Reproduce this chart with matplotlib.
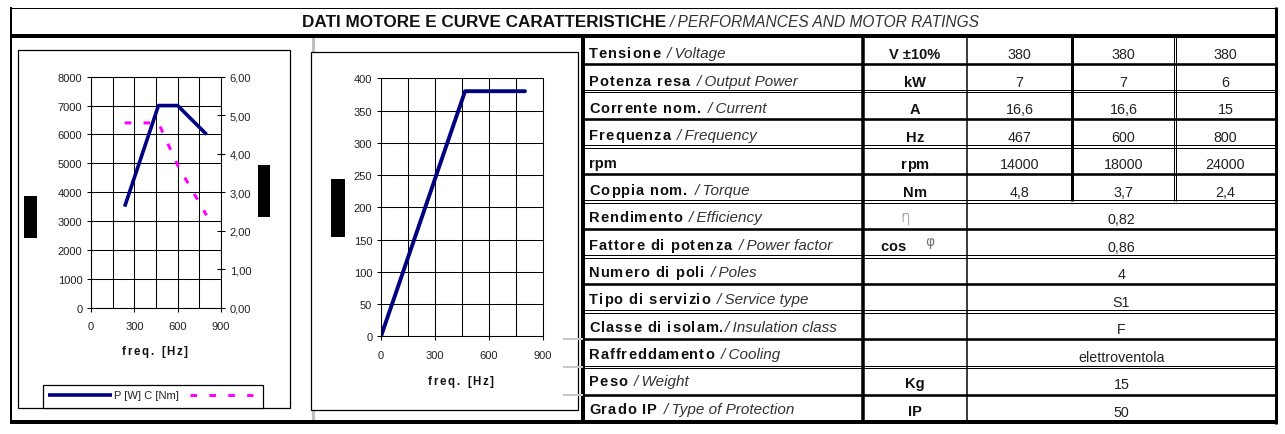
import matplotlib
matplotlib.use("Agg")
import matplotlib.pyplot as plt
from matplotlib.patches import Rectangle
from matplotlib.ticker import FuncFormatter

plt.rcParams["font.family"] = ["Liberation Sans", "DejaVu Sans"]

# characteristic curves
freq_pc = [233, 467, 600, 800]
power_w = [3500, 7000, 7000, 6000]
torque_nm = [4.8, 4.8, 3.7, 2.4]
freq_v = [0, 467, 800]
voltage_v = [0, 380, 380]

# motor ratings table
labels_it = ["Tensione", "Potenza resa", "Corrente nom.", "Frequenza", "rpm",
             "Coppia nom.", "Rendimento", "Fattore di potenza", "Numero di poli",
             "Tipo di servizio", "Classe di isolam.", "Raffreddamento", "Peso",
             "Grado IP"]
labels_en = ["Voltage", "Output Power", "Current", "Frequency", "", "Torque",
             "Efficiency", "Power factor", "Poles", "Service type",
             "Insulation class", "Cooling", "Weight", "Type of Protection"]
units = ["V \u00b110%", "kW", "A", "Hz", "rpm", "Nm", "", "cos", "", "", "",
         "", "Kg", "IP"]
values_a = ["380", "7", "16,6", "467", "14000", "4,8"]
values_b = ["380", "7", "16,6", "600", "18000", "3,7"]
values_c = ["380", "6", "15", "800", "24000", "2,4"]
values_common = ["0,82", "0,86", "4", "S1", "F", "elettroventola", "15", "50"]

W, H = 1285, 435
fig = plt.figure(figsize=(W / 100, H / 100), dpi=100)
cv = fig.add_axes([0, 0, 1, 1])
cv.set_xlim(0, W)
cv.set_ylim(H, 0)
cv.axis("off")


def hline(y, x0, x1, w=1.0, c="black", z=2):
    cv.plot([x0, x1], [y, y], color=c, lw=w * 0.72, solid_capstyle="butt",
            zorder=z)


def vline(x, y0, y1, w=1.0, c="black", z=2):
    cv.plot([x, x], [y0, y1], color=c, lw=w * 0.72, solid_capstyle="butt",
            zorder=z)


def dline(y, x0, x1):
    hline(y - 1.3, x0, x1, 1)
    hline(y + 1.3, x0, x1, 1)


def spaced(x, y, s, spacing, ha="left", space_w=2.9, **kw):
    # letter-spaced text, one glyph after the other
    arts = []
    prev = None
    extra = 0.0
    for ch in s:
        if ch == " ":
            extra += spacing + space_w
            continue
        if prev is None:
            prev = cv.text(x, y, ch, va="baseline", **kw)
        else:
            prev = cv.annotate(ch, xy=(1, y), xycoords=(prev, "data"),
                               xytext=(spacing + extra, 0),
                               textcoords="offset points", va="baseline", **kw)
        extra = 0.0
        arts.append(prev)
    if ha == "center":
        fig.canvas.draw()
        r = fig.canvas.get_renderer()
        x0 = arts[0].get_window_extent(r).x0
        x1 = arts[-1].get_window_extent(r).x1
        arts[0].set_x(x - (x1 - x0) / 2)
    return prev


# outer frame and title
hline(8.5, 10, 1276, 1)
vline(11, 8, 425, 2)
vline(1276, 8, 425, 3)
hline(36.5, 10, 1277.5, 4)
hline(423, 10, 1277.5, 4)

t = cv.text(302, 27, "DATI MOTORE E CURVE CARATTERISTICHE", fontsize=12.3,
            fontweight="bold", va="baseline", color="#111111")
cv.annotate("/ PERFORMANCES AND MOTOR RATINGS", xy=(1, 27), xycoords=(t, "data"),
            xytext=(3, 0), textcoords="offset points", fontsize=11.2,
            fontstyle="italic", va="baseline", color="#333333")

# grey leftovers of the sheet grid
vline(313, 38, 423, 3, "#c0c0c0", z=0.5)

# table grid
row_top = 37.0
row_h = 27.58
edges = [row_top + i * row_h for i in range(15)]
x_lab, x_unit, x_v1, x_v2, x_v3, x_end = 583, 863, 967, 1072, 1175, 1276
for i in range(1, 14):
    if i % 2 == 1:
        hline(edges[i], x_lab, x_end, 2.6)
    else:
        dline(edges[i], x_lab, x_end)
for i in (11, 12, 13):
    hline(edges[i], 563, x_lab, 2, "#c8c8c8", z=3)
vline(x_lab, 37, 424, 4)
vline(x_unit, 37, 424, 3.5)
vline(x_v1, 37, 424, 1.5)
vline(x_v2, 37, edges[6], 3)
vline(x_v3 - 1.3, 37, edges[6], 1)
vline(x_v3 + 1.3, 37, edges[6], 1)

lab_kw = dict(fontsize=10.5, fontweight="bold", color="#111111")
spaced_units = ("Hz", "Nm", "cos", "rpm")
for i, (it, en) in enumerate(zip(labels_it, labels_en)):
    mid = edges[i] + row_h / 2
    yb = mid + 7.5 - 3.3 * i / 13
    if it == "rpm":
        tb = cv.text(589, yb, it, va="baseline", **lab_kw)
    else:
        tb = spaced(589, yb, it, 0.7, **lab_kw)
    if en:
        cv.annotate("/ " + en, xy=(1, yb), xycoords=(tb, "data"),
                    xytext=(1 if i == 10 else 5, 0),
                    textcoords="offset points", fontsize=11,
                    fontstyle="italic", va="baseline", color="#333333")
    yu = mid + 8.7 - 2.2 * i / 13
    if units[i]:
        ux = 893 if units[i] == "cos" else 915
        if units[i] in spaced_units:
            spaced(ux, yu, units[i], 0.1, ha="center", **lab_kw)
        else:
            cv.text(ux, yu, units[i], ha="center", va="baseline", **lab_kw)
    yv = mid + 8.5 - 1.1 * i / 13
    if i < 6:
        for xc, vals in (((x_v1 + x_v2) / 2, values_a),
                         ((x_v2 + x_v3) / 2, values_b),
                         ((x_v3 + x_end) / 2, values_c)):
            cv.text(xc, yv, vals[i], fontsize=10.3, ha="center", va="baseline",
                    color="#222222")
    else:
        cv.text((x_v1 + x_end) / 2, yv, values_common[i - 6], fontsize=10.3,
                ha="center", va="baseline", color="#222222")

# greek symbols of efficiency / power factor
cv.text(905, edges[6] + row_h / 2 + 1, "\u03b7", fontsize=11, ha="center",
        va="center", color="#777777", family="DejaVu Sans",
        fontweight="light")
cv.text(930, edges[7] + row_h / 2 - 2, "\u03c6", fontsize=10, ha="center",
        va="center", color="#777777", family="DejaVu Sans")

# chart boxes
cv.add_patch(Rectangle((18, 51), 272, 358, facecolor="white",
                       edgecolor="black", lw=0.9))
cv.add_patch(Rectangle((311, 53), 267, 358, facecolor="white",
                       edgecolor="black", lw=0.9))
cv.add_patch(Rectangle((43, 386), 220, 23, facecolor="white",
                       edgecolor="black", lw=0.9))
# blacked-out axis titles
for x0, y0, w, h in ((24, 197, 13, 42), (258, 166, 12, 52), (331, 180, 14, 58)):
    cv.add_patch(Rectangle((x0, y0), w, h, facecolor="black", edgecolor="none"))

xl_kw = dict(fontsize=8.3, fontweight="bold", color="#111111")
spaced(155, 355, "freq. [Hz]", 1.2, ha="center", **xl_kw)
spaced(461, 385.5, "freq. [Hz]", 1.2, ha="center", **xl_kw)

# legend of the power / torque chart
magenta_dash = (2.2, 4.1)
hline(396, 48, 112, 3.6, "#000080", z=3)
cv.text(114, 396.5, "P [W] C [Nm]", fontsize=8, va="center", color="#222222")
cv.plot([190, 253], [396, 396], color="#ff00ff", lw=3 * 0.72,
        dashes=magenta_dash, dash_capstyle="butt", zorder=3)

navy = "#000080"
tick_kw = dict(direction="inout", length=5.5, width=0.75, labelsize=8,
               labelcolor="#222222", color="black")


def style(ax, xmax=900):
    ax.set_xlim(0, xmax)
    ax.set_xticks([0, 300, 600, 900])
    ax.set_xticks([150, 450, 750], minor=True)
    ax.tick_params(axis="x", which="minor", length=0)
    ax.tick_params(axis="both", which="major", **tick_kw)
    ax.tick_params(axis="x", which="major", pad=7)
    ax.grid(True, which="both", color="black", lw=0.75)
    for s in ax.spines.values():
        s.set_linewidth(0.75)
        s.set_color("black")


# power and torque vs frequency
ax1 = fig.add_axes([91 / W, (H - 308.7) / H, 130 / W, 231 / H])
style(ax1)
ax1.set_ylim(0, 8000)
ax1.set_yticks(range(0, 8001, 1000))
ax1.plot(freq_pc, power_w, color=navy, lw=2.6, solid_capstyle="butt")
ax1r = ax1.twinx()
ax1r.set_ylim(0, 6)
ax1r.set_yticks(range(0, 7))
ax1r.yaxis.set_major_formatter(FuncFormatter(lambda v, _: f"{v:.2f}".replace(".", ",")))
ax1r.tick_params(axis="y", **tick_kw)
for s in ax1r.spines.values():
    s.set_linewidth(0.75)
ax1r.plot(freq_pc, torque_nm, color="#ff00ff", lw=3 * 0.72,
          dashes=magenta_dash, dash_capstyle="butt")

# voltage vs frequency
ax2 = fig.add_axes([381 / W, (H - 337.3) / H, 162 / W, 258 / H])
style(ax2)
ax2.set_ylim(0, 400)
ax2.set_yticks(range(0, 401, 50))
ax2.plot(freq_v, voltage_v, color=navy, lw=2.8, solid_capstyle="round")

fig.savefig("out.png", dpi=100)
